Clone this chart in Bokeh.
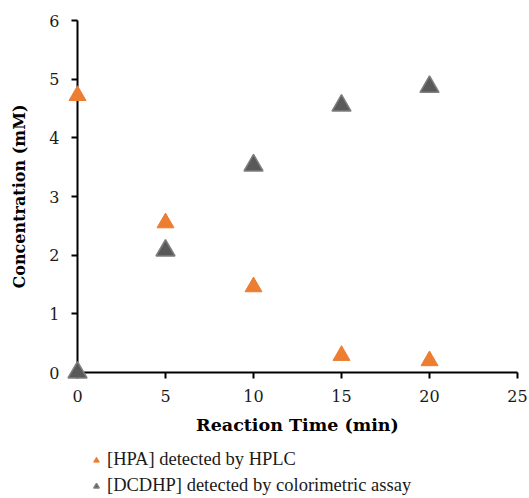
from bokeh.plotting import figure
from bokeh.models import Legend, LegendItem, Range1d, FixedTicker
from bokeh.layouts import column
from bokeh.embed import file_html
from bokeh.resources import INLINE

time_min = [0, 5, 10, 15, 20]
hpa_mM = [4.72, 2.55, 1.46, 0.29, 0.20]
dcdhp_mM = [0.0, 2.08, 3.53, 4.55, 4.87]
x_ticks = [0, 5, 10, 15, 20, 25]
y_ticks = [0, 1, 2, 3, 4, 5, 6]
series_labels = ["[HPA] detected by HPLC", "[DCDHP] detected by colorimetric assay"]

FONT = "DejaVu Serif"
HPA_STYLE = dict(marker="triangle", size=17, fill_color="#ED7D31", line_color="#ED7D31", line_width=1)
DCDHP_STYLE = dict(marker="triangle", size=19, fill_color="#595959", line_color="#7F7F7F", line_width=1.5)

p = figure(frame_width=440, frame_height=352, output_backend="svg", toolbar_location=None,
           x_range=Range1d(0, 25), y_range=Range1d(0, 6),
           min_border_left=77, min_border_top=20, min_border_right=12, min_border_bottom=66)
p.outline_line_color = None
p.xgrid.grid_line_color = None
p.ygrid.grid_line_color = None

p.scatter(time_min, hpa_mM, level="overlay", **HPA_STYLE)
p.scatter(time_min, dcdhp_mM, level="overlay", **DCDHP_STYLE)

for ax in (p.xaxis[0], p.yaxis[0]):
    ax.axis_line_color = "black"
    ax.axis_line_width = 2
    ax.major_tick_line_color = "black"
    ax.major_tick_line_width = 2
    ax.major_tick_out = 6
    ax.major_tick_in = 0
    ax.minor_tick_line_color = None
    ax.major_label_text_font = FONT
    ax.major_label_text_font_size = "16px"
    ax.major_label_text_color = "#1a1a1a"
    ax.axis_label_text_font = FONT
    ax.axis_label_text_font_style = "bold"
    ax.axis_label_text_color = "black"

p.xaxis.axis_label_text_font_size = "17.5px"
p.yaxis.axis_label_text_font_size = "16px"
p.xaxis.ticker = FixedTicker(ticks=x_ticks)
p.yaxis.ticker = FixedTicker(ticks=y_ticks)
p.xaxis.axis_label = "Reaction Time (min)"
p.yaxis.axis_label = "Concentration (mM)"
p.xaxis.major_label_standoff = 11
p.yaxis.major_label_standoff = 12
p.xaxis.axis_label_standoff = 10
p.yaxis.axis_label_standoff = 17

# legend strip below the chart (series drawn off-range there; only the legend shows)
lg = figure(width=529, height=60, output_backend="svg", toolbar_location=None,
            x_range=Range1d(100, 101), y_range=Range1d(100, 101),
            x_axis_location=None, y_axis_location=None, min_border=0,
            min_border_left=0, min_border_right=0, min_border_top=0, min_border_bottom=0)
lg.outline_line_color = None
lg.xgrid.grid_line_color = None
lg.ygrid.grid_line_color = None
lr1 = lg.scatter(time_min, hpa_mM, **HPA_STYLE)
lr2 = lg.scatter(time_min, dcdhp_mM, **DCDHP_STYLE)

legend = Legend(items=[LegendItem(label=series_labels[0], renderers=[lr1], index=0),
                       LegendItem(label=series_labels[1], renderers=[lr2], index=0)],
                orientation="vertical", location=(12, 2),
                label_text_font="serif", label_text_font_size="18.5px",
                label_text_color="#1a1a1a", border_line_color=None,
                background_fill_alpha=0, glyph_width=14, glyph_height=14,
                label_standoff=4, spacing=5, padding=0, margin=0, label_height=20)
lg.add_layout(legend, "center")

open("out.html", "w").write(file_html(column(p, lg, spacing=0), INLINE))
